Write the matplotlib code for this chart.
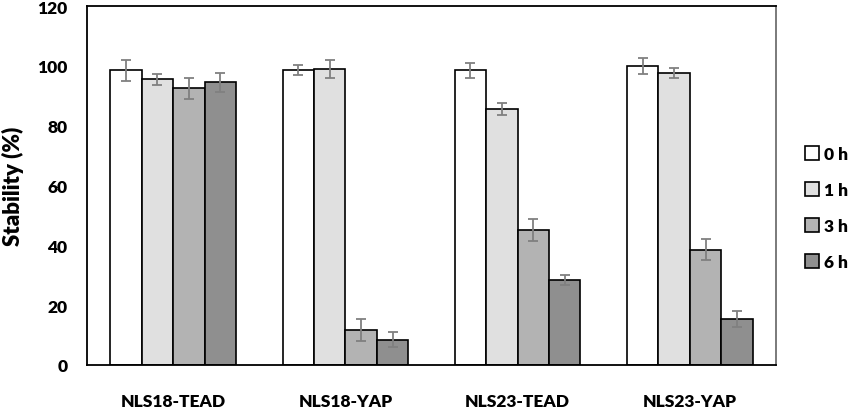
import matplotlib
matplotlib.use("Agg")
import matplotlib.pyplot as plt
import numpy as np

groups = ["NLS18-TEAD", "NLS18-YAP", "NLS23-TEAD", "NLS23-YAP"]
times = ["0 h", "1 h", "3 h", "6 h"]

# stability (%) per time point, one value per group
h0 = [98.5, 98.5, 98.5, 100.0]
h1 = [95.5, 99.0, 85.5, 97.6]
h3 = [92.5, 11.8, 45.2, 38.6]
h6 = [94.5, 8.4, 28.4, 15.4]

# error bars
h0_err = [3.6, 1.7, 2.6, 2.7]
h1_err = [1.8, 3.1, 2.1, 1.6]
h3_err = [3.6, 3.7, 3.6, 3.6]
h6_err = [3.2, 2.5, 1.7, 2.6]

colors = ["#ffffff", "#e0e0e0", "#b3b3b3", "#8f8f8f"]

plt.rcParams['font.family'] = ['Lato', 'DejaVu Sans']
plt.rcParams['font.weight'] = 'heavy'

fig = plt.figure(figsize=(8.5, 4.1), dpi=100)
ax = fig.add_axes([87/850, 44/410, 689/850, 359/410])

x = np.arange(len(groups))
w = 0.1825
series = [h0, h1, h3, h6]
errs = [h0_err, h1_err, h3_err, h6_err]
for i, (vals, err) in enumerate(zip(series, errs)):
    ax.bar(x + (i - 1.5)*w, vals, w, color=colors[i], edgecolor="black",
           linewidth=1.2, label=times[i], zorder=2)
    ax.errorbar(x + (i - 1.5)*w, vals, yerr=err, fmt="none", ecolor="#808080",
                elinewidth=1.3, capsize=3.5, capthick=1.3, zorder=3)

ax.set_xlim(-0.5, 3.5)
ax.set_ylim(0, 120)
ax.set_yticks(range(0, 121, 20))
ax.set_xticks(x)
ax.set_xticklabels(groups)
ax.tick_params(axis="both", length=0, labelsize=12.5)
ax.tick_params(axis="y", pad=14)
ax.tick_params(axis="x", pad=20)
for s in ax.spines.values():
    s.set_linewidth(1.3)
    s.set_color("black")
ax.spines["right"].set_color("#707070")

ax.set_ylabel("Stability (%)", fontsize=16, fontweight="heavy")
ax.yaxis.set_label_coords(-0.092, 0.5)

fig.legend(loc="center left", bbox_to_anchor=(805/850, (410-209)/410),
           frameon=False, fontsize=12.5, handlelength=0.8, handleheight=0.8,
           handletextpad=0.3, labelspacing=1.15, borderpad=0, borderaxespad=0)

fig.savefig("out.png", dpi=100)
